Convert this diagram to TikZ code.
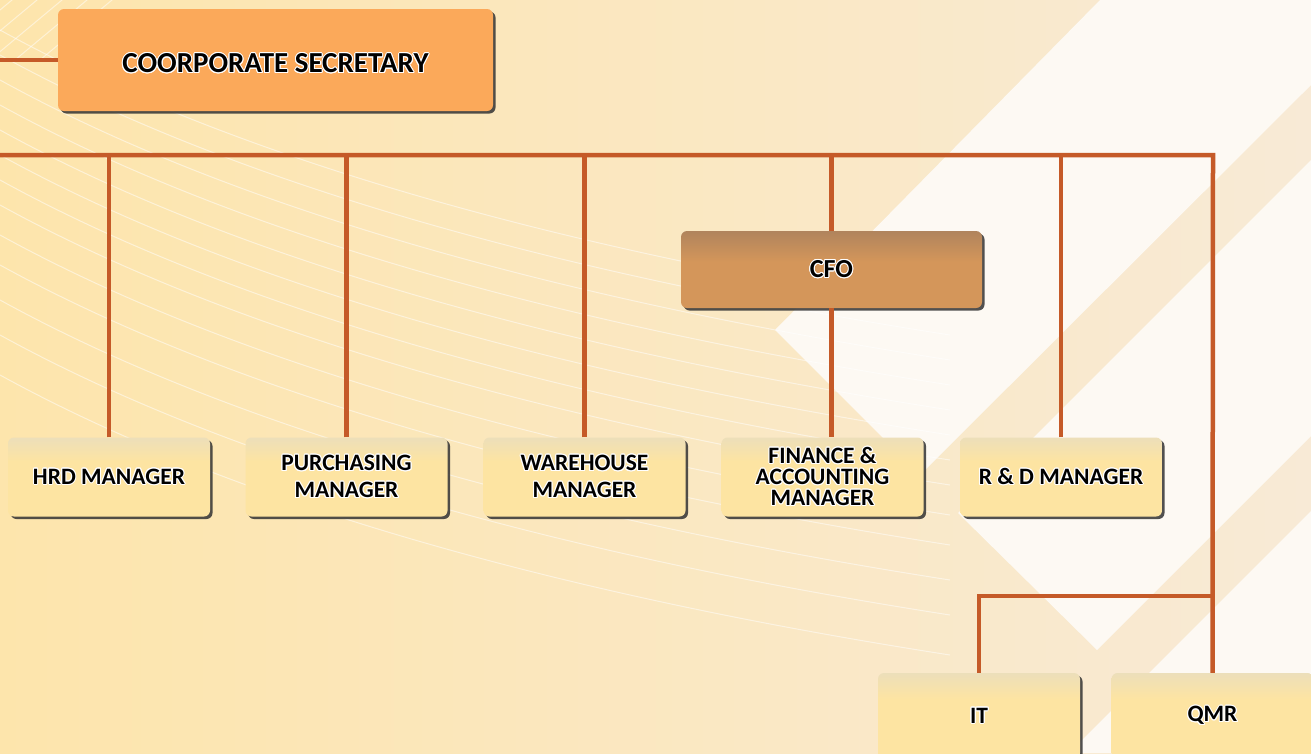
\documentclass[tikz,border=0pt]{standalone}
\usepackage{fontspec}
\setmainfont{Carlito}
\usepackage{contour}
\contourlength{1pt}
\usetikzlibrary{shadows}

\definecolor{linkc}{RGB}{197,90,40}
\definecolor{bgl}{RGB}{253,229,172}
\definecolor{bgr}{RGB}{248,234,214}
\definecolor{creamc}{RGB}{253,249,243}
\definecolor{boxyel}{RGB}{253,228,162}
\definecolor{boxtop}{RGB}{222,218,206}
\definecolor{secc}{RGB}{251,169,90}
\definecolor{sectop}{RGB}{252,196,148}
\definecolor{cfoc}{RGB}{212,150,90}
\definecolor{cfotop}{RGB}{158,123,94}
\definecolor{cfogray}{RGB}{180,172,164}

\pgfdeclareverticalshading{boxshade}{100bp}{color(0bp)=(boxyel); color(60bp)=(boxyel); color(88bp)=(boxtop); color(100bp)=(boxtop)}
\pgfdeclareverticalshading{secshade}{100bp}{color(0bp)=(secc); color(88bp)=(secc); color(100bp)=(sectop)}
\pgfdeclareverticalshading{cfoshade}{100bp}{color(0bp)=(cfoc); color(55bp)=(cfoc); color(85bp)=(cfotop); color(100bp)=(cfogray)}

\newcommand{\lbl}[1]{\contour{white}{#1}}

\tikzset{
  post/.style={rounded corners=6pt, shading=boxshade, inner sep=0pt, align=center,
    drop shadow={shadow xshift=2.5pt, shadow yshift=-2.5pt, fill=black!80, opacity=0.85},
    font=\fontsize{23.5}{27}\selectfont\bfseries, minimum width=202pt, minimum height=79pt},
  link/.style={draw=linkc, line width=4.5pt},
  swoosh/.style={draw=white, line width=1pt, opacity=0.5}
}

\begin{document}
\begin{tikzpicture}[x=1pt, y=-1pt]
\useasboundingbox (0,0) rectangle (1311,753);
% background
\fill[left color=bgl, right color=bgr] (0,0) rectangle (1311,753);
\fill[creamc] (1100,0) -- (1311,0) -- (1311,85) -- (920,475) -- (775,330) -- cycle;
\fill[creamc] (958,513) -- (1311,160) -- (1311,436) -- (1097,650) -- cycle;
\fill[creamc] (1311,511) -- (1069,753) -- (1311,753) -- cycle;
\foreach \y in {-90,-65,-40,-15,10,35,60,85,115,145,180,215,255}
  \draw[swoosh] (0,\y+120) .. controls (200,\y+230) and (500,\y+330) .. (950,\y+400);
\foreach \x in {0,25,50,75,100}
  \draw[swoosh] (\x-60,60) -- (\x+60,-40);

% boxes
\node[post, shading=secshade, minimum width=435pt, minimum height=102pt,
  font=\fontsize{29}{32}\selectfont\bfseries] (sec) at (275.5,60) {\raisebox{-4pt}[\height][\depth]{\lbl{COORPORATE SECRETARY}}};
\node[post, shading=cfoshade, minimum width=301pt, minimum height=77pt,
  font=\fontsize{26}{30}\selectfont\bfseries] (cfo) at (831.5,269.5) {\lbl{CFO}};
\node[post] (hrd) at (109,477) {\lbl{HRD MANAGER}};
\node[post] (pur) at (346.5,477) {\lbl{PURCHASING}\\\lbl{MANAGER}};
\node[post] (wh) at (584.5,477) {\lbl{WAREHOUSE}\\\lbl{MANAGER}};
\node[post, font=\fontsize{23.5}{21}\selectfont\bfseries] (fin) at (822.5,477) {\lbl{FINANCE \&}\\\lbl{ACCOUNTING}\\\lbl{MANAGER}};
\node[post] (rd) at (1061,477) {\lbl{R \& D MANAGER}};
\node[post, minimum height=86pt] (it) at (979,716) {\lbl{IT}};
\node[post, minimum height=86pt] (qmr) at (1212.5,716) {\lbl{QMR}};

% links
\coordinate (secL) at (0,60);
\coordinate (busL) at (0,155);
\coordinate (busR) at (1213,155);
\coordinate (itbr) at (1213,596);
\draw[link] (secL) -- (sec.west);
\draw[link] (busL) -- (busR) -- (qmr.north);
\draw[link] (hrd.north) -- (hrd.north |- busL);
\draw[link] (pur.north) -- (pur.north |- busL);
\draw[link] (wh.north) -- (wh.north |- busL);
\draw[link] (cfo.north) -- (cfo.north |- busL);
\draw[link] (cfo.south) -- (cfo.south |- fin.north);
\draw[link] (rd.north) -- (rd.north |- busL);
\draw[link] (itbr) -| (it.north);
\end{tikzpicture}
\end{document}
